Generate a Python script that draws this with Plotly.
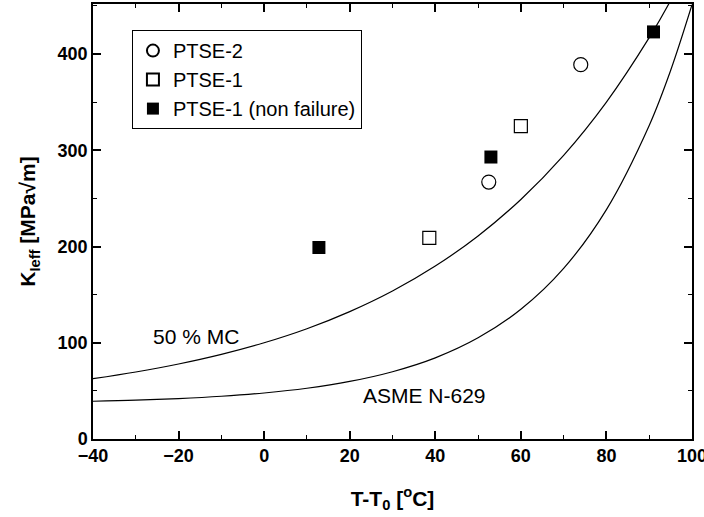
import plotly.graph_objects as go

# Curves
curve_t = [-40, -30, -20, -10, 0, 10, 20, 30, 40, 50, 60, 70, 80, 90, 95, 100]
mc50_k = [62.7, 69.6, 77.9, 87.9, 100.0, 114.6, 132.4, 153.8, 179.7, 211.0, 248.9, 294.7, 350.1, 417.0, 455.6, 500.0]
asme_k = [39.2, 40.3, 42.0, 44.4, 47.8, 52.7, 59.8, 69.9, 84.3, 105.1, 134.8, 177.3, 238.4, 325.8, 382.9, 451.2]

# Data points
ptse2_t = [52.5, 74.0]
ptse2_k = [267, 389]
ptse1_t = [38.6, 60.0]
ptse1_k = [209, 325]
ptse1nf_t = [12.8, 53.0, 91.0]
ptse1nf_k = [199, 293, 423]

FONT = "Liberation Sans, Arial, sans-serif"

fig = go.Figure()
fig.add_trace(go.Scatter(x=curve_t, y=mc50_k, mode="lines", line=dict(color="black", width=1.2),
                         line_shape="spline", showlegend=False, hoverinfo="skip"))
fig.add_trace(go.Scatter(x=curve_t, y=asme_k, mode="lines", line=dict(color="black", width=1.2),
                         line_shape="spline", showlegend=False, hoverinfo="skip"))
fig.add_trace(go.Scatter(x=ptse2_t, y=ptse2_k, mode="markers", name="PTSE-2",
                         marker=dict(symbol="circle-open", size=14, color="black", line=dict(width=1.2))))
fig.add_trace(go.Scatter(x=ptse1_t, y=ptse1_k, mode="markers", name="PTSE-1",
                         marker=dict(symbol="square-open", size=13, color="black", line=dict(width=1.2))))
fig.add_trace(go.Scatter(x=ptse1nf_t, y=ptse1nf_k, mode="markers", name="PTSE-1 (non failure)",
                         marker=dict(symbol="square", size=13, color="black")))

fig.add_annotation(x=-15.9, y=107, text="50 % MC", showarrow=False,
                   font=dict(family=FONT, size=21, color="black"))
fig.add_annotation(x=37.4, y=45, text="ASME N-629", showarrow=False,
                   font=dict(family=FONT, size=21, color="black"))

axis_common = dict(showline=True, linecolor="black", linewidth=1.5, mirror="ticks",
                   ticks="inside", ticklen=8, tickwidth=1.5, tickcolor="black",
                   showgrid=False, zeroline=False, ticklabeloverflow="allow",
                   tickfont=dict(family=FONT, size=18, color="black", weight="bold"))

fig.update_xaxes(range=[-40, 100], dtick=20, tick0=0, automargin=False,
                 minor=dict(ticks="inside", dtick=10, ticklen=4, tickwidth=1.2, tickcolor="black"),
                 title=dict(text="T-T<sub>0</sub> [<sup>o</sup>C]", standoff=26,
                            font=dict(family=FONT, size=21, color="black", weight="bold")),
                 **axis_common)
fig.update_yaxes(range=[0, 452], dtick=100, tick0=0,
                 minor=dict(ticks="inside", dtick=50, ticklen=4, tickwidth=1.2, tickcolor="black"),
                 title=dict(text="K<sub>Ieff</sub> [MPa√m]", standoff=16,
                            font=dict(family=FONT, size=21, color="black", weight="bold")),
                 **axis_common)

fig.update_layout(
    width=704, height=517,
    margin=dict(l=93, r=12, t=4, b=78),
    paper_bgcolor="white", plot_bgcolor="white",
    font=dict(family=FONT, color="black"),
    legend=dict(x=0.065, y=0.94, xanchor="left", yanchor="top",
                bordercolor="black", borderwidth=1, bgcolor="white",
                font=dict(family=FONT, size=20, color="black"),
                tracegroupgap=0, itemsizing="constant"),
)

fig.write_html("out.html")
